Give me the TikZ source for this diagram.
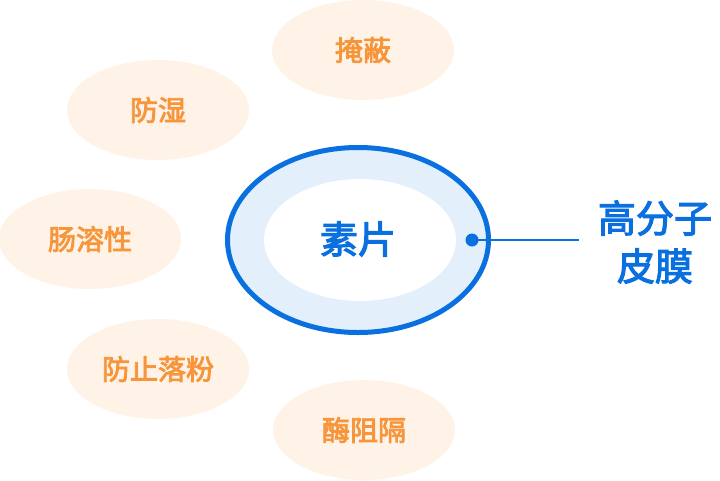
\documentclass[tikz,border=0pt]{standalone}
\usetikzlibrary{shapes.geometric}
\usepackage{fontspec}
\newfontfamily\cjkb{Noto Sans CJK SC}[FakeBold=3]
\definecolor{mainblue}{HTML}{0A70E0}
\definecolor{paleblue}{HTML}{E3F0FC}
\definecolor{palepeach}{HTML}{FFF3E8}
\definecolor{textorange}{HTML}{F7953B}
\begin{document}
\begin{tikzpicture}[x=1pt,y=-1pt,
  bubble/.style={ellipse, fill=palepeach, minimum width=182pt, minimum height=100pt, inner sep=0pt,
    text=textorange, font=\cjkb\fontsize{28}{28}\selectfont},
  ]
\useasboundingbox (0,0) rectangle (720,480);
% satellites
\node[bubble] (yanbi) at (363,50) {掩蔽};
\node[bubble] (fangshi) at (158,110) {防湿};
\node[bubble] (changrong) at (90,239) {肠溶性};
\node[bubble] (luofen) at (158,369) {防止落粉};
\node[bubble] (meizu) at (364,430) {酶阻隔};
% tablet
\draw[mainblue, line width=5pt, fill=paleblue] (358,240) ellipse [x radius=130.5, y radius=92.5];
\fill[white] (360,240) ellipse [x radius=96, y radius=61];
\node[text=mainblue, font=\cjkb\fontsize{38}{38}\selectfont] (supian) at (358,239) {素片};
% film
\node[circle, fill=mainblue, minimum size=13pt, inner sep=0pt] (dot) at (472,240) {};
\coordinate (lineend) at (579,240);
\draw[mainblue, line width=2pt] (dot.center) -- (lineend);
\node[text=mainblue, font=\cjkb\fontsize{38}{48}\selectfont, align=center, inner sep=0pt] (film) at (655,242) {高分子\\皮膜};
\end{tikzpicture}
\end{document}
